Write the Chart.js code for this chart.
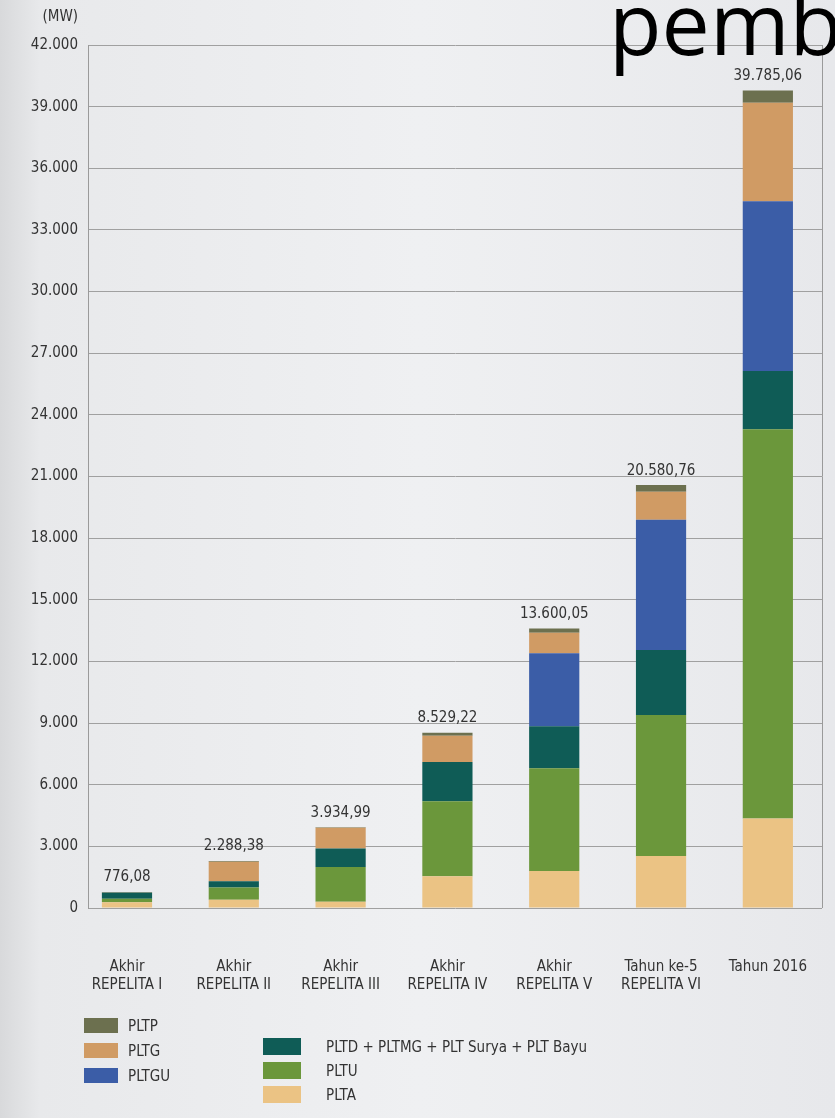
<!DOCTYPE html>
<html>
<head>
<meta charset="utf-8">
<script src="https://cdn.jsdelivr.net/npm/chart.js@4.4.1/dist/chart.umd.min.js"></script>
<style>
    html, body { margin: 0; padding: 0; }
    body {
        width: 835px; height: 1118px; overflow: hidden; position: relative;
        background: linear-gradient(90deg, #d8d9db 0px, #e8e9eb 40px, #eff0f2 420px, #e7e8eb 835px);
    }
    #wrap { position: absolute; left: 0; top: 0; width: 835px; height: 1118px; }
    #stamp {
        position: absolute; left: 609px; top: -21px; width: 300px; height: 90px;
        font-family: "Open Sans", "Noto Sans", sans-serif; font-size: 86px; color: #000;
        line-height: 1; white-space: nowrap; overflow: visible;
    }
</style>
</head>
<body>
<div id="wrap"><canvas id="capacityChart" width="835" height="1118"></canvas></div>
<div id="stamp">pemb</div>
<script>
// Installed capacity (MW) per period
const categories = [
    ['Akhir', 'REPELITA I'],
    ['Akhir', 'REPELITA II'],
    ['Akhir', 'REPELITA III'],
    ['Akhir', 'REPELITA IV'],
    ['Akhir', 'REPELITA V'],
    ['Tahun ke-5', 'REPELITA VI'],
    ['Tahun 2016']
];
const totalLabels = ['776,08', '2.288,38', '3.934,99', '8.529,22', '13.600,05', '20.580,76', '39.785,06'];

// series, bottom of the stack first
const plta  = [280, 400, 300, 1550, 1800, 2530.76, 4360.06];
const pltu  = [170, 600, 1700, 3650, 5000, 6860, 18940];
const pltd  = [300, 300, 900, 1900, 2050, 3170, 2830];
const pltgu = [0, 0, 0, 0, 3550, 6330, 8260];
const pltg  = [26, 950, 1000, 1280, 1000, 1370, 4795];
const pltp  = [0.08, 38.38, 34.99, 149.22, 200.05, 320, 600];

const yMax = 42000;
const yStep = 3000;

const FONT = '"Liberation Sans Narrow", "DejaVu Sans Condensed", "Roboto Condensed", sans-serif';

function formatId(value) {
    return String(value).replace(/\B(?=(\d{3})+(?!\d))/g, '.');
}

function toPoints(values) {
    return values.map((v, i) => ({ x: i, y: v }));
}

const datasets = [
    { label: 'PLTA', data: toPoints(plta), backgroundColor: '#ebc384' },
    { label: 'PLTU', data: toPoints(pltu), backgroundColor: '#6b973b' },
    { label: 'PLTD + PLTMG + PLT Surya + PLT Bayu', data: toPoints(pltd), backgroundColor: '#0f5c56' },
    { label: 'PLTGU', data: toPoints(pltgu), backgroundColor: '#3b5da7' },
    { label: 'PLTG', data: toPoints(pltg), backgroundColor: '#d09b64' },
    { label: 'PLTP', data: toPoints(pltp), backgroundColor: '#6c704f' }
];

// legend layout: [dataset label, swatch x, swatch y, swatch w, swatch h, text x]
const legendItems = [
    ['PLTP', 84, 1018, 34, 15, 128],
    ['PLTG', 84, 1043, 34, 15, 128],
    ['PLTGU', 84, 1068, 34, 15, 128],
    ['PLTD + PLTMG + PLT Surya + PLT Bayu', 263, 1038, 38, 17, 326],
    ['PLTU', 263, 1062, 38, 17, 326],
    ['PLTA', 263, 1086, 38, 17, 326]
];

const extrasPlugin = {
    id: 'extras',
    afterDatasetsDraw(chart) {
        const ctx = chart.ctx;
        const area = chart.chartArea;
        const x = chart.scales.x;
        const y = chart.scales.y;

        // right frame line
        ctx.save();
        ctx.strokeStyle = '#9a9a9a';
        ctx.lineWidth = 1;
        ctx.beginPath();
        ctx.moveTo(area.right + 0.5, area.top);
        ctx.lineTo(area.right + 0.5, area.bottom);
        ctx.stroke();

        // totals above bars
        ctx.fillStyle = '#333';
        ctx.font = '15px ' + FONT;
        ctx.textAlign = 'center';
        ctx.textBaseline = 'bottom';
        totalLabels.forEach((t, i) => {
            const sum = plta[i] + pltu[i] + pltd[i] + pltgu[i] + pltg[i] + pltp[i];
            ctx.fillText(t, x.getPixelForValue(i), y.getPixelForValue(sum) - 7);
        });

        // unit
        ctx.textAlign = 'right';
        ctx.textBaseline = 'middle';
        ctx.font = '15px ' + FONT;
        ctx.fillText('(MW)', 78, 17);

        // legend
        legendItems.forEach(item => {
            const ds = chart.data.datasets.find(d => d.label === item[0]);
            ctx.fillStyle = ds.backgroundColor;
            ctx.fillRect(item[1], item[2], item[3], item[4]);
            ctx.fillStyle = '#333';
            ctx.textAlign = 'left';
            ctx.font = '15px ' + FONT;
            ctx.fillText(item[0], item[5], item[2] + item[4] / 2 + 2);
        });
        ctx.restore();
    }
};

new Chart(document.getElementById('capacityChart'), {
    type: 'bar',
    data: { datasets: datasets },
    options: {
        responsive: false,
        animation: false,
        layout: { padding: { top: 45, right: 13, bottom: 120, left: 0 } },
        plugins: {
            legend: { display: false },
            tooltip: { enabled: false }
        },
        datasets: {
            bar: { barPercentage: 0.47, categoryPercentage: 1 }
        },
        scales: {
            x: {
                type: 'linear',
                stacked: true,
                offset: false,
                min: -0.365,
                max: 6.507,
                afterBuildTicks: scale => {
                    scale.ticks = categories.map((c, i) => ({ value: i }));
                },
                afterFit: scale => {
                    scale.height = 90;
                    scale.paddingLeft = 0;
                    scale.paddingRight = 0;
                },
                grid: { display: false, offset: false },
                border: { display: false },
                ticks: {
                    padding: 42,
                    color: '#333',
                    font: { family: FONT, size: 15 },
                    maxRotation: 0,
                    autoSkip: false,
                    callback: value => categories[value]
                }
            },
            y: {
                stacked: true,
                min: 0,
                max: yMax,
                afterFit: scale => { scale.width = 88; },
                grid: { color: '#a0a0a0', lineWidth: 1, drawTicks: false },
                border: { color: '#9a9a9a' },
                ticks: {
                    stepSize: yStep,
                    padding: 10,
                    color: '#333',
                    font: { family: FONT, size: 15 },
                    callback: value => formatId(value)
                }
            }
        }
    },
    plugins: [extrasPlugin]
});
</script>
</body>
</html>
